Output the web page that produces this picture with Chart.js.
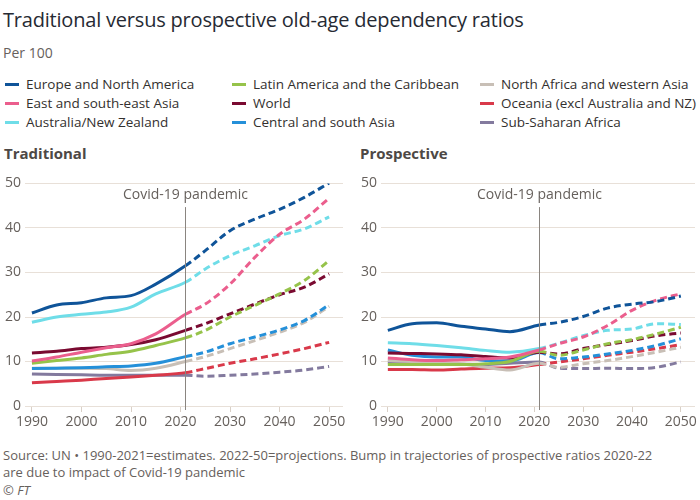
<!DOCTYPE html>
<html><head><meta charset="utf-8">
<script src="https://cdn.jsdelivr.net/npm/chart.js@4"></script>
<style>
body{margin:0;background:#fff;font-family:"Open Sans",sans-serif;color:#33302e;}
#wrap{position:relative;width:700px;height:500px;overflow:hidden;}
.t{position:absolute;white-space:nowrap;}
#title{left:3px;top:6px;font-size:20px;color:#262a33;letter-spacing:-0.2px;}
#sub{left:3px;top:43px;font-size:14px;color:#66605c;}
.lg{position:absolute;font-size:13.5px;color:#33302e;white-space:nowrap;}
.lg i{display:inline-block;width:14px;height:3px;vertical-align:middle;margin-right:7px;position:relative;top:-1px;}
.pt{position:absolute;top:143px;font-size:15px;font-weight:bold;color:#4d4845;}
.ft{position:absolute;left:3px;font-size:13px;color:#66605c;white-space:nowrap;}
.cw{position:absolute;top:170px;height:270px;}
</style></head>
<body><div id="wrap">
<div id="title" class="t">Traditional versus prospective old-age dependency ratios</div>
<div id="sub" class="t">Per 100</div>
<div id="legend"></div>
<div class="pt" style="left:4px">Traditional</div>
<div class="pt" style="left:360px">Prospective</div>
<div class="cw" style="left:0;width:350px"><canvas id="c1"></canvas></div>
<div class="cw" style="left:356px;width:344px"><canvas id="c2"></canvas></div>
<div class="ft" style="top:446px">Source: UN • 1990-2021=estimates. 2022-50=projections. Bump in trajectories of prospective ratios 2020-22</div>
<div class="ft" style="top:463px">are due to impact of Covid-19 pandemic</div>
<div class="ft" style="top:481px;font-style:italic">© FT</div>
</div>
<script>
const years = [1990,1995,2000,2005,2010,2015,2021,2025,2030,2035,2040,2045,2050];
const xTickValues = [1990,2000,2010,2020,2030,2040,2050];
const yTickValues = [0,10,20,30,40,50];
const covidYear = 2021;
const covidLabel = "Covid-19 pandemic";

const seriesNames = ["Europe and North America","East and south-east Asia","Australia/New Zealand","Latin America and the Caribbean","World","Central and south Asia","North Africa and western Asia","Oceania (excl Australia and NZ)","Sub-Saharan Africa"];
const seriesColors = ["#0f5499","#eb5e8d","#6fdde8","#96c34a","#7a0a31","#2590d9","#c8bfb6","#d9394a","#837a9e"];

// Traditional
const tradEurope   = [20.9,22.7,23.2,24.3,24.8,27.4,31.5,34.9,39.4,42.0,44.2,46.9,50.1];
const tradEastAsia = [10.1,11.0,12.1,13.1,14.0,16.2,20.6,22.9,27.4,33.4,38.6,42.0,46.7];
const tradAusNZ    = [18.8,20.0,20.6,21.1,22.2,25.2,27.8,30.8,33.8,36.0,38.3,39.8,42.5];
const tradLatAm    = [9.6,10.2,10.8,11.6,12.3,13.6,15.3,17.0,20.0,22.6,25.2,28.2,32.7];
const tradWorld    = [11.9,12.3,12.9,13.2,13.8,14.9,17.0,18.5,20.7,22.9,25.0,26.7,29.7];
const tradCSAsia   = [8.4,8.5,8.6,8.8,9.0,9.6,11.1,12.1,14.0,15.5,17.1,19.2,22.8];
const tradNAfrica  = [8.5,8.5,8.5,8.4,8.0,8.5,10.0,11.1,12.9,14.7,16.6,18.8,22.4];
const tradOceania  = [5.2,5.5,5.8,6.2,6.5,6.9,7.5,8.4,9.6,10.6,11.7,12.9,14.3];
const tradSSA      = [7.2,7.1,7.0,6.9,6.9,6.9,6.9,6.7,6.9,7.2,7.6,8.1,8.9];

// Prospective
const prosEurope   = [17.0,18.5,18.7,17.9,17.3,16.7,18.2,18.8,20.1,22.0,22.9,23.5,24.7];
const prosEastAsia = [10.8,10.4,10.2,10.4,10.6,11.0,12.6,14.0,15.5,18.1,21.5,23.8,25.2];
const prosAusNZ    = [14.2,14.0,13.6,13.1,12.5,12.1,12.9,14.1,15.8,17.0,17.3,18.5,18.3];
const prosLatAm    = [9.3,9.3,9.3,9.3,9.5,10.0,12.3,11.4,12.6,14.0,14.9,16.2,17.7];
const prosWorld    = [11.9,11.8,11.7,11.5,11.1,10.8,12.1,11.7,12.9,13.8,14.7,15.8,16.4];
const prosCSAsia   = [12.6,11.4,11.0,11.0,10.2,10.1,12.0,10.6,11.0,11.7,12.5,13.6,15.1];
const prosNAfrica  = [10.2,10.0,9.9,9.5,8.7,8.1,9.6,8.7,9.5,10.2,11.1,12.1,13.2];
const prosOceania  = [8.2,8.2,8.1,8.3,8.5,8.6,9.3,9.9,10.6,11.4,12.1,12.9,13.8];
const prosSSA      = [9.9,9.7,9.5,9.4,9.3,9.6,9.9,8.5,8.4,8.5,8.4,8.7,9.9];

const tradSeries = [tradEurope,tradEastAsia,tradAusNZ,tradLatAm,tradWorld,tradCSAsia,tradNAfrica,tradOceania,tradSSA];
const prosSeries = [prosEurope,prosEastAsia,prosAusNZ,prosLatAm,prosWorld,prosCSAsia,prosNAfrica,prosOceania,prosSSA];

// legend
const legendOrder = [[0,1,2],[3,4,5],[6,7,8]];
const colX = [5,232,480], rowY = [75,94,113];
const lg = document.getElementById('legend');
legendOrder.forEach((col,ci)=>col.forEach((si,ri)=>{
  const d=document.createElement('div');d.className='lg';
  d.style.left=colX[ci]+'px';d.style.top=rowY[ri]+'px';
  d.innerHTML='<i style="background:'+seriesColors[si]+'"></i>'+seriesNames[si];
  lg.appendChild(d);
}));

const covidPlugin = {
  id:'covid',
  afterDatasetsDraw(chart){
    const {ctx, scales:{x,y}} = chart;
    const px = Math.round(x.getPixelForValue(covidYear))+0.5;
    ctx.save();
    ctx.strokeStyle='#8a8580';ctx.lineWidth=1;
    ctx.beginPath();ctx.moveTo(px,y.getPixelForValue(44.7));ctx.lineTo(px,y.getPixelForValue(0)+4);ctx.stroke();
    ctx.fillStyle='#66605c';ctx.font='14px "Open Sans"';ctx.textAlign='center';ctx.textBaseline='middle';
    ctx.fillText(covidLabel,px,y.getPixelForValue(47.4));
    ctx.restore();
  }
};

function makeChart(id, series, xmin, xmax, padRight){
  const datasets = series.map((arr,i)=>({
    label:seriesNames[i],
    data:years.map((yr,j)=>({x:yr,y:arr[j]})),
    borderColor:seriesColors[i],
    borderWidth:3,
    pointRadius:0,
    cubicInterpolationMode:'monotone',
    fill:false,
    segment:{borderDash:c=>c.p0.parsed.x>=covidYear?[7,4]:undefined}
  }));
  return new Chart(document.getElementById(id),{
    type:'line',
    data:{datasets},
    plugins:[covidPlugin],
    options:{
      responsive:true,maintainAspectRatio:false,animation:false,
      layout:{autoPadding:false,padding:{top:13.5,left:0,right:padRight,bottom:0}},
      plugins:{legend:{display:false},tooltip:{enabled:false}},
      scales:{
        x:{type:'linear',min:xmin,max:xmax,
          afterBuildTicks:s=>{s.ticks=xTickValues.map(v=>({value:v}));},
          afterFit:s=>{s.height=34;},
          grid:{drawOnChartArea:false,drawTicks:true,tickLength:6,color:'#d9d0c7'},
          border:{display:false},
          ticks:{color:'#66605c',font:{family:'Open Sans',size:14},padding:2,callback:v=>String(v),maxRotation:0}
        },
        y:{min:0,max:50,
          afterBuildTicks:s=>{s.ticks=yTickValues.map(v=>({value:v}));},
          afterFit:s=>{s.width=25;},
          grid:{drawTicks:false,color:'#e8e0d8',lineWidth:1},
          border:{display:false},
          ticks:{color:'#66605c',font:{family:'Open Sans',size:14},padding:4}
        }
      }
    }
  });
}
makeChart('c1', tradSeries, 1988.6, 2052.8, 7);
makeChart('c2', prosSeries, 1988.6, 2052.9, 5);
</script>
</body></html>
